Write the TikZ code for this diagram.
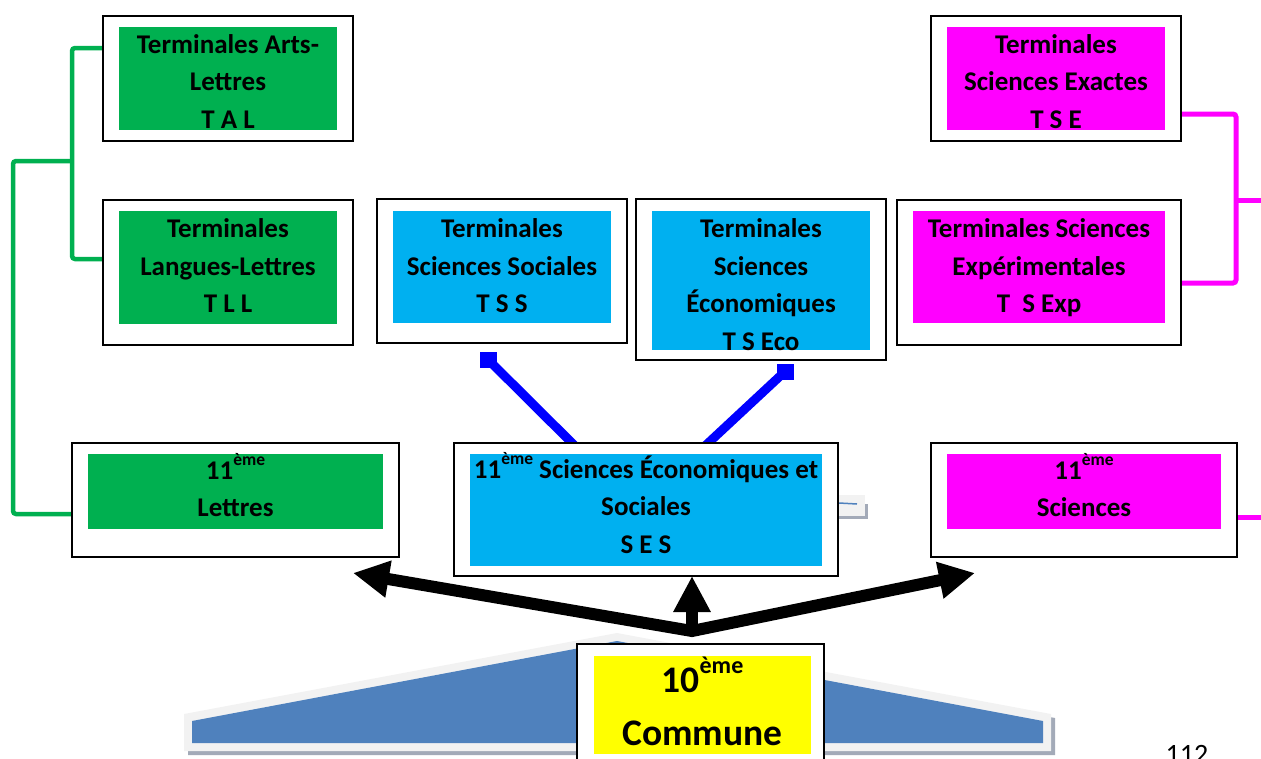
\documentclass[tikz,border=0pt]{standalone}
\usepackage{fontspec}
\setmainfont{Carlito}
\usetikzlibrary{arrows.meta}
\definecolor{grn}{HTML}{00B050}
\definecolor{cyn}{HTML}{00B0F0}
\definecolor{mag}{HTML}{FF00FF}
\definecolor{ylw}{HTML}{FFFF00}
\definecolor{pedblue}{HTML}{4F81BD}
\definecolor{pedlight}{HTML}{F2F2F2}
\definecolor{pedshadow}{HTML}{A3AAB8}
\definecolor{conblue}{HTML}{0000FF}
\newcommand\expo[1]{\raisebox{0.5em}{\fontsize{17.5}{17.5}\selectfont #1}}
\newcommand\bigexpo[1]{\raisebox{0.5em}{\fontsize{24}{24}\selectfont #1}}
\begin{document}
\begin{tikzpicture}[x=1pt,y=-1pt,
  outerbox/.style={draw=black, line width=2pt, fill=white, inner sep=0pt, outer sep=0pt},
  innerbox/.style={inner sep=0pt, outer sep=0pt, draw=none},
  lbl/.style={font=\bfseries\fontsize{27}{37.5}\selectfont, align=center, inner sep=0pt},
  biglbl/.style={font=\bfseries\fontsize{37.5}{53}\selectfont, align=center, inner sep=0pt},
  grnline/.style={draw=grn, line width=4.5pt, rounded corners=3pt},
  magline/.style={draw=mag, line width=5pt, rounded corners=3pt},
  bline/.style={draw=conblue, line width=9pt},
  sqr/.style={fill=conblue, minimum width=17pt, minimum height=16pt, inner sep=0pt},
  bigarrow/.style={draw=black, line width=12pt, line join=miter},
  tri/.tip={Triangle[length=36pt,width=35pt]}
]
\useasboundingbox (0,0) rectangle (1261,758);
\clip (0,0) rectangle (1261,758);

% base pediment shape
\fill[pedshadow] (188,718) -- (621,637) -- (1055,718) -- (1055,755) -- (188,755) -- cycle;
\fill[pedlight] (184,714) -- (617,633) -- (1051,714) -- (1051,751) -- (184,751) -- cycle;
\fill[pedblue] (192,721) -- (617,641) -- (1043,721) -- (1043,743) -- (192,743) -- cycle;

% small artefact right of SES box
\fill[pedshadow] (838,504) rectangle (868,519);
\fill[pedlight] (830,495) rectangle (865,516);
\draw[pedblue, line width=1.5pt] (830,502.5) -- (857,504);

% ports
\coordinate (talport) at (103,48);
\coordinate (tllport) at (103,259);
\coordinate (l11port) at (72,514);
\coordinate (gsplit) at (72,161);
\coordinate (tseport) at (1181,114);
\coordinate (tsexpport) at (1181,283);
\coordinate (msplit) at (1236,200);
\coordinate (s11port) at (1237,517);
\coordinate (mout1) at (1266,200);
\coordinate (mout2) at (1266,517);
\coordinate (sesp1) at (575,446);
\coordinate (sesp2) at (705,446);

% green connectors
\draw[grnline] (talport) -- (72,48) -- (72,259) -- (tllport);
\draw[grnline] (gsplit) -- (13,161) -- (13,514) -- (l11port);
% magenta connectors
\draw[magline] (tseport) -- (1236,114) -- (1236,283) -- (tsexpport);
\draw[magline] (msplit) -- (mout1);
\draw[magline] (s11port) -- (mout2);
% blue connectors
\node[sqr] (sq1) at (488.5,360) {};
\node[sqr] (sq2) at (785,371.5) {};
\draw[bline] (sesp1) -- (sq1.center);
\draw[bline] (sesp2) -- (sq2.center);

% green boxes
\node[outerbox, minimum width=250pt, minimum height=125pt] (tal) at (228,78.5) {};
\node[innerbox, fill=grn, minimum width=218pt, minimum height=103pt] (talin) at (228,78.5) {};
\node[lbl] (taltx) at (228,83) {\strut Terminales Arts-\\\strut Lettres\\\strut T A L};

\node[outerbox, minimum width=250pt, minimum height=145pt] (tll) at (228,272.5) {};
\node[innerbox, fill=grn, minimum width=218pt, minimum height=113pt] (tllin) at (228,267.5) {};
\node[lbl] (tlltx) at (228,267.5) {\strut Terminales\\\strut Langues-Lettres\\\strut T L L};

\node[outerbox, minimum width=327pt, minimum height=114pt] (l11) at (235.5,500) {};
\node[innerbox, fill=grn, minimum width=295pt, minimum height=75pt] (l11in) at (235.5,491.5) {};
\node[lbl] (l11tx) at (235.5,490.25) {\strut 11\expo{ème}\\\strut Lettres};

% magenta boxes
\node[outerbox, minimum width=250pt, minimum height=125pt] (tse) at (1056,78.5) {};
\node[innerbox, fill=mag, minimum width=218pt, minimum height=103pt] (tsein) at (1056,78.5) {};
\node[lbl] (tsetx) at (1056,83) {\strut Terminales\\\strut Sciences Exactes\\\strut T S E};

\node[outerbox, minimum width=284pt, minimum height=145pt] (tsexp) at (1039,272.5) {};
\node[innerbox, fill=mag, minimum width=252pt, minimum height=112pt] (tsexpin) at (1039,267) {};
\node[lbl] (tsexptx) at (1039,267.5) {\strut Terminales Sciences\\\strut Expérimentales\\\strut T\ \ S Exp};

\node[outerbox, minimum width=306pt, minimum height=114pt] (s11) at (1084,500) {};
\node[innerbox, fill=mag, minimum width=274pt, minimum height=75pt] (s11in) at (1084,491.5) {};
\node[lbl] (s11tx) at (1084,490.25) {\strut 11\expo{ème}\\\strut Sciences};

% cyan boxes
\node[outerbox, minimum width=250pt, minimum height=144pt] (tss) at (502,271) {};
\node[innerbox, fill=cyn, minimum width=218pt, minimum height=112pt] (tssin) at (502,267) {};
\node[lbl] (tsstx) at (502,267.5) {\strut Terminales\\\strut Sciences Sociales\\\strut T S S};

\node[outerbox, minimum width=250pt, minimum height=161pt] (tseco) at (761,279.5) {};
\node[innerbox, fill=cyn, minimum width=218pt, minimum height=139pt] (tsecoin) at (761,280.5) {};
\node[lbl] (tsecotx) at (761,286.25) {\strut Terminales\\\strut Sciences\\\strut Économiques\\\strut T S Eco};

\node[outerbox, minimum width=384pt, minimum height=133pt] (ses) at (646,509.5) {};
\node[innerbox, fill=cyn, minimum width=352pt, minimum height=112pt] (sesin) at (646,510) {};
\node[lbl] (sestx) at (646,508) {\strut 11\expo{ème} Sciences Économiques et\\\strut Sociales\\\strut S E S};

% 10eme commune
\node[outerbox, minimum width=247pt, minimum height=131pt] (c10) at (700.5,709.5) {};
\node[innerbox, fill=ylw, minimum width=217pt, minimum height=98pt] (c10in) at (702.5,705) {};
\node[biglbl] (c10tx) at (702.5,708) {\strut 10\bigexpo{ème}\\\strut Commune};

% black arrows
\coordinate (hub) at (692,631);
\coordinate (tipL) at (353,573);
\coordinate (tipR) at (975,573);
\coordinate (tipC) at (692,576);
\coordinate (hubC) at (692,634);
\draw[bigarrow, tri-tri] (tipL) -- (hub) -- (tipR);
\draw[bigarrow, -tri] (hubC) -- (tipC);

% page number
\node[font=\fontsize{28}{30}\selectfont, anchor=base, inner sep=0pt] (pnum) at (1187,763) {112};
\end{tikzpicture}
\end{document}
